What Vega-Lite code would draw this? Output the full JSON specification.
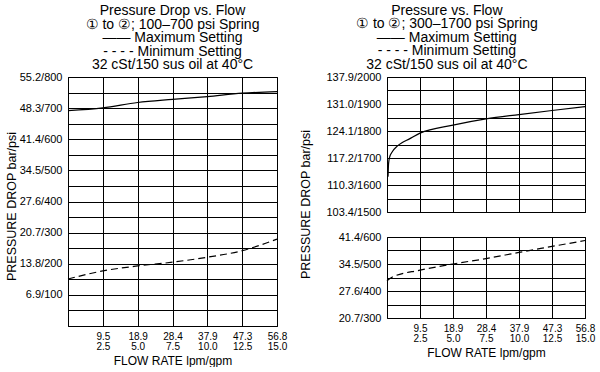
{
  "$schema": "https://vega.github.io/schema/vega-lite/v6.json",
  "autosize": {"type": "pad"},
  "padding": {"left": 4, "top": 3, "right": 0, "bottom": 0},
  "bounds": "flush",
  "spacing": 110,
  "config": {
    "font": "Liberation Sans",
    "view": {"stroke": "black", "strokeWidth": 1},
    "axis": {
      "domain": false,
      "ticks": false,
      "grid": true,
      "gridColor": "black",
      "gridOpacity": 1,
      "gridWidth": 1,
      "labelColor": "black",
      "labelFont": "Liberation Sans",
      "labelFontSize": 11,
      "titleColor": "black",
      "titleFont": "Liberation Sans",
      "titleFontWeight": "normal"
    },
    "title": {
      "font": "Liberation Sans",
      "fontSize": 14,
      "fontWeight": "normal",
      "color": "black",
      "lineHeight": 13.5,
      "anchor": "middle",
      "baseline": "alphabetic",
      "offset": -1
    }
  },
  "datasets": {
    "leftMax": [
      {"gpm": 0, "psi": 692}, {"gpm": 2.5, "psi": 701}, {"gpm": 5, "psi": 718},
      {"gpm": 7.5, "psi": 728}, {"gpm": 10, "psi": 737}, {"gpm": 12.5, "psi": 748},
      {"gpm": 15, "psi": 753}
    ],
    "leftMin": [
      {"gpm": 0, "psi": 151}, {"gpm": 2.5, "psi": 177}, {"gpm": 5, "psi": 193},
      {"gpm": 7.5, "psi": 205}, {"gpm": 10, "psi": 221}, {"gpm": 12.5, "psi": 242},
      {"gpm": 13.75, "psi": 259}, {"gpm": 15, "psi": 279}
    ],
    "rightMax": [
      {"gpm": 0.08, "psi": 1631}, {"gpm": 0.12, "psi": 1680}, {"gpm": 0.2, "psi": 1703},
      {"gpm": 0.4, "psi": 1723}, {"gpm": 0.78, "psi": 1744}, {"gpm": 1.16, "psi": 1757},
      {"gpm": 1.67, "psi": 1770}, {"gpm": 2.5, "psi": 1792}, {"gpm": 5, "psi": 1822},
      {"gpm": 7.5, "psi": 1845}, {"gpm": 10, "psi": 1861}, {"gpm": 12.5, "psi": 1876},
      {"gpm": 15, "psi": 1890}
    ],
    "rightMin": [
      {"gpm": 0, "psi": 438}, {"gpm": 0.38, "psi": 451}, {"gpm": 2.5, "psi": 477},
      {"gpm": 5, "psi": 500}, {"gpm": 7.5, "psi": 520}, {"gpm": 10, "psi": 543},
      {"gpm": 12.5, "psi": 565}, {"gpm": 15, "psi": 587}
    ]
  },
  "hconcat": [
    {
      "width": 209,
      "height": 249,
      "title": {
        "text": ["Pressure Drop vs. Flow", "① to ②; 100–700 psi Spring", "—— Maximum Setting", "- - - - Minimum Setting", "32 cSt/150 sus oil at 40°C"]
      },
      "encoding": {
        "x": {
          "field": "gpm", "type": "quantitative",
          "scale": {"domain": [0, 15], "nice": false},
          "axis": {
            "values": [0, 2.5, 5, 7.5, 10, 12.5, 15],
            "labelExpr": "datum.value == 0 ? '' : [format(datum.value * 3.78541, '.1f'), format(datum.value, '.1f')]",
            "labelFontSize": 10,
            "labelLineHeight": 10.5,
            "labelPadding": 5,
            "labelFlush": false,
            "title": "FLOW RATE lpm/gpm",
            "titleFontSize": 12,
            "titleBaseline": "alphabetic",
            "titleY": 38.5
          }
        },
        "y": {
          "field": "psi", "type": "quantitative",
          "scale": {"domain": [0, 800], "nice": false},
          "axis": {
            "values": [0, 50, 100, 150, 200, 250, 300, 350, 400, 450, 500, 550, 600, 650, 700, 750, 800],
            "labelExpr": "(datum.value % 100 == 0 && datum.value != 0) ? format(datum.value * 0.0689476, '.1f') + '/' + datum.value : ''",
            "labelPadding": 6,
            "labelFlush": false,
            "title": "PRESSURE DROP bar/psi",
            "titleFontSize": 12.5,
            "titleBaseline": "alphabetic",
            "titleX": -53,
            "titleY": 129
          }
        }
      },
      "layer": [
        {"data": {"name": "leftMax"}, "mark": {"type": "line", "color": "black", "strokeWidth": 1.2, "interpolate": "monotone"}},
        {"data": {"name": "leftMin"}, "mark": {"type": "line", "color": "black", "strokeWidth": 1.2, "strokeDash": [7, 4], "interpolate": "monotone"}}
      ]
    },
    {
      "title": {
        "text": ["Pressure vs. Flow", "① to ②; 300–1700 psi Spring", "—— Maximum Setting", "- - - - Minimum Setting", "32 cSt/150 sus oil at 40°C"]
      },
      "bounds": "flush",
      "spacing": 25,
      "vconcat": [
        {
          "width": 198,
          "height": 135,
          "data": {"name": "rightMax"},
          "mark": {"type": "line", "color": "black", "strokeWidth": 1.2, "interpolate": "monotone"},
          "encoding": {
            "x": {
              "field": "gpm", "type": "quantitative",
              "scale": {"domain": [0, 15], "nice": false},
              "axis": {"values": [0, 2.5, 5, 7.5, 10, 12.5, 15], "labels": false, "title": null}
            },
            "y": {
              "field": "psi", "type": "quantitative",
              "scale": {"domain": [1500, 2000], "nice": false},
              "axis": {
                "values": [1500, 1550, 1600, 1650, 1700, 1750, 1800, 1850, 1900, 1950, 2000],
                "labelExpr": "(datum.value % 100 == 0) ? format(datum.value * 0.0689476, '.1f') + '/' + datum.value : ''",
                "labelPadding": 6,
                "labelFlush": false,
                "title": "PRESSURE DROP bar/psi",
                "titleFontSize": 12.5,
                "titleBaseline": "alphabetic",
                "titleX": -78,
                "titleY": 127
              }
            }
          }
        },
        {
          "width": 198,
          "height": 81,
          "data": {"name": "rightMin"},
          "mark": {"type": "line", "color": "black", "strokeWidth": 1.2, "strokeDash": [7, 4], "interpolate": "monotone"},
          "encoding": {
            "x": {
              "field": "gpm", "type": "quantitative",
              "scale": {"domain": [0, 15], "nice": false},
              "axis": {
                "values": [0, 2.5, 5, 7.5, 10, 12.5, 15],
                "labelExpr": "datum.value == 0 ? '' : [format(datum.value * 3.78541, '.1f'), format(datum.value, '.1f')]",
                "labelFontSize": 10,
                "labelLineHeight": 10.5,
                "labelPadding": 5,
                "labelFlush": false,
                "title": "FLOW RATE lpm/gpm",
                "titleFontSize": 12,
                "titleBaseline": "alphabetic",
                "titleY": 38
              }
            },
            "y": {
              "field": "psi", "type": "quantitative",
              "scale": {"domain": [300, 600], "nice": false},
              "axis": {
                "values": [300, 350, 400, 450, 500, 550, 600],
                "labelExpr": "(datum.value % 100 == 0) ? format(datum.value * 0.0689476, '.1f') + '/' + datum.value : ''",
                "labelPadding": 6,
                "labelFlush": false,
                "title": null
              }
            }
          }
        }
      ]
    }
  ]
}
